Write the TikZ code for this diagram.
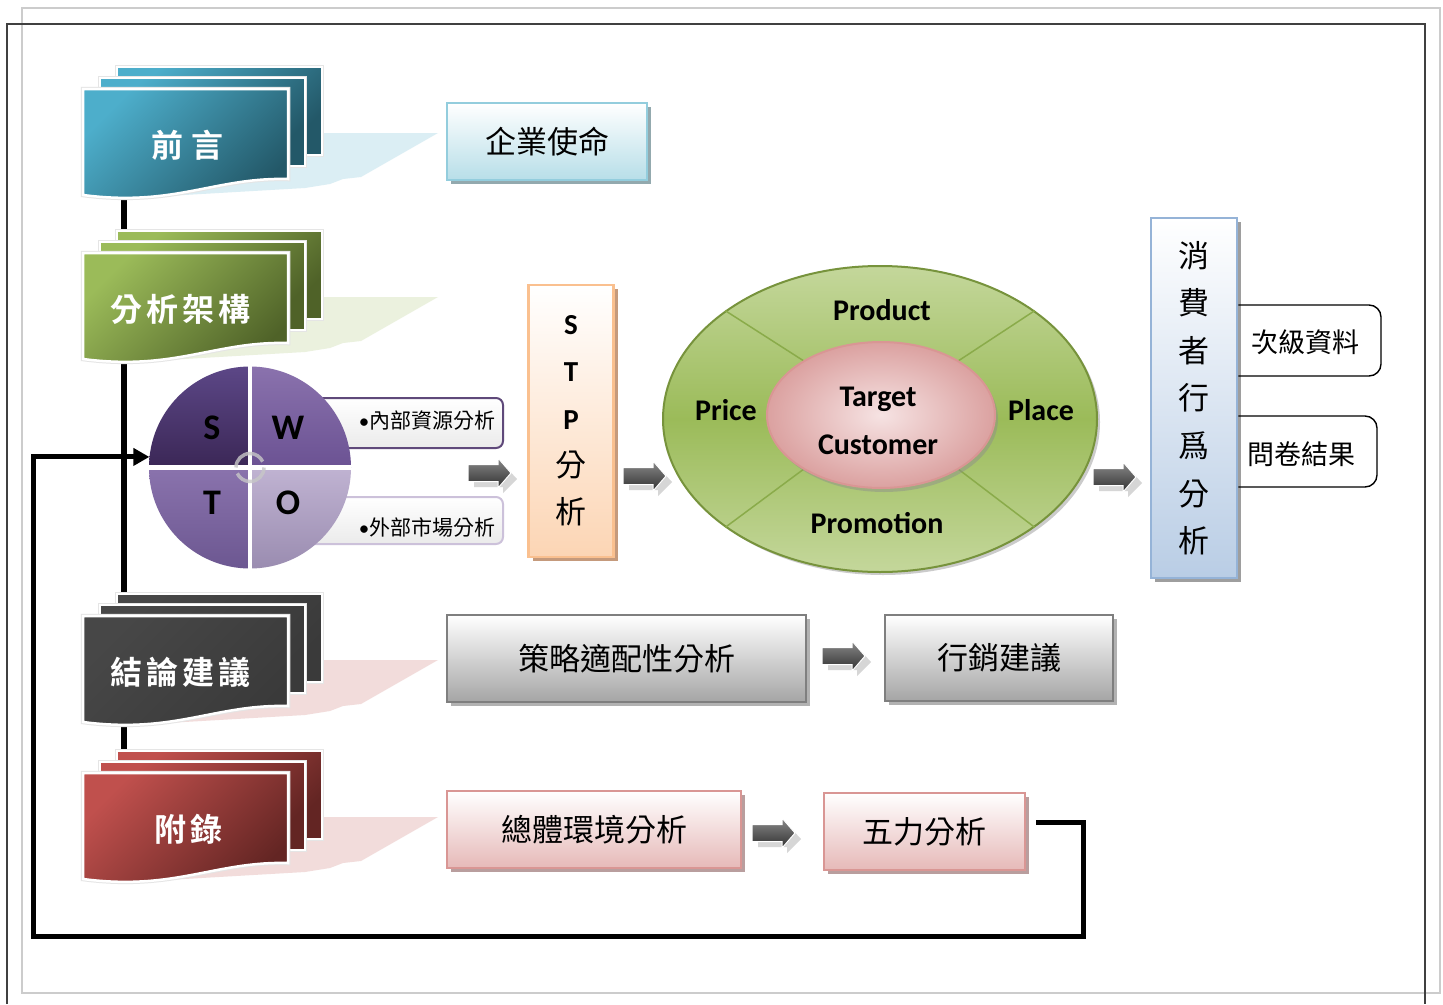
\documentclass[tikz,border=0pt]{standalone}
\usepackage{fontspec}
\setmainfont{Carlito}
\newfontfamily\cjk{Noto Sans CJK TC}
\newfontfamily\cjkb{Noto Sans CJK TC Bold}
\usetikzlibrary{shapes.geometric,shadows,arrows.meta,calc}
\definecolor{tealL}{HTML}{4DAECB}
\definecolor{tealD}{HTML}{235868}
\definecolor{grnL}{HTML}{9BBB59}
\definecolor{grnD}{HTML}{4F6228}
\definecolor{gryL}{HTML}{474747}
\definecolor{gryD}{HTML}{3A3A3A}
\definecolor{redL}{HTML}{C0504D}
\definecolor{redD}{HTML}{632523}
\definecolor{flagB}{HTML}{DBEEF4}
\definecolor{flagG}{HTML}{EBF1DE}
\definecolor{flagP}{HTML}{F2DCDB}
\definecolor{blueB}{HTML}{93CDDD}
\definecolor{blueF}{HTML}{B7DEE8}
\definecolor{blueS}{HTML}{93A9AE}
\definecolor{orB}{HTML}{FAC08F}
\definecolor{orF}{HTML}{FCD5B4}
\definecolor{orS}{HTML}{C59A7C}
\definecolor{cbB}{HTML}{95B3D7}
\definecolor{cbF}{HTML}{B9CDE5}
\definecolor{gbB}{HTML}{7F7F7F}
\definecolor{gbF}{HTML}{A5A5A5}
\definecolor{pkB}{HTML}{D99694}
\definecolor{pkF}{HTML}{E6B9B8}
\definecolor{pkS}{HTML}{B99E9E}
\definecolor{arrL}{HTML}{8A8A8A}
\definecolor{arrD}{HTML}{303030}
\definecolor{arrS}{HTML}{D6D6D6}
\definecolor{sT}{HTML}{5C4787}
\definecolor{sB}{HTML}{3B2756}
\definecolor{wT}{HTML}{8A72AD}
\definecolor{wB}{HTML}{6B5293}
\definecolor{tT}{HTML}{8A73AD}
\definecolor{tB}{HTML}{6C5791}
\definecolor{oT}{HTML}{C0B3D2}
\definecolor{oB}{HTML}{9A8CB0}
\definecolor{purB}{HTML}{5F497A}
\definecolor{purL}{HTML}{CCC1DA}
\definecolor{mixL}{HTML}{C4D79B}
\definecolor{mixM}{HTML}{9BBB59}
\definecolor{mixB}{HTML}{77933C}
\definecolor{divG}{HTML}{8AAB4A}
\definecolor{tcIn}{HTML}{F6E3E3}
\definecolor{tcOut}{HTML}{DBA1A0}
\newcommand\sectab[7]{%
  \fill[#4] (285,#1+44) -- (438,#1+44) -- (361,#1+88) -- (343,#1+90) -- (330,#1+95) -- (305,#1+99) -- (150,#1+108) -- (150,#1+44) -- cycle;
  \draw[tabdoc, top color=#2, bottom color=#3, shading angle=45] (117,#1-22) rectangle (322,#1+66);
  \draw[tabdoc, top color=#2, bottom color=#3, shading angle=45] (100,#1-11) rectangle (305,#1+77);
  \draw[tabdoc, top color=#2, bottom color=#3, shading angle=45] (83,#1) -- (288,#1) -- (288,#1+90) .. controls (215,#1+88) and (175,#1+118) .. (83,#1+106) -- cycle;
  \node[tabtext] (#5) at (#6,#1+56) {#7};
}
\tikzset{
  frameD/.style={draw=black!75, line width=1.5pt},
  frameL/.style={draw=black!20, line width=1.5pt},
  tabdoc/.style={draw=white, line width=2.5pt, preaction={draw=black!10, line width=4.5pt}},
  tabtext/.style={text=white, font=\cjkb\fontsize{32}{36}\selectfont, inner sep=0},
  spine/.style={line width=6pt, black},
  box/.style={rectangle, inner sep=0, line width=2.5pt, font=\cjk\fontsize{31}{36}\selectfont},
  bluebox/.style={box, draw=blueB, top color=white, bottom color=blueF,
    drop shadow={shadow xshift=4pt, shadow yshift=-4pt, fill=blueS, opacity=1}},
  orbox/.style={box, draw=orB, top color=white, bottom color=orF,
    drop shadow={shadow xshift=4pt, shadow yshift=-4pt, fill=orS, opacity=1}},
  cbbox/.style={box, draw=cbB, top color=white, bottom color=cbF,
    drop shadow={shadow xshift=4pt, shadow yshift=-4pt, fill=black!38, opacity=1}},
  graybox/.style={box, draw=gbB, top color=white, bottom color=gbF,
    drop shadow={shadow xshift=4pt, shadow yshift=-4pt, fill=black!30, opacity=1}},
  pinkbox/.style={box, draw=pkB, top color=white, bottom color=pkF,
    drop shadow={shadow xshift=4pt, shadow yshift=-4pt, fill=pkS, opacity=1}},
  swbox/.style={rectangle, rounded corners=7pt, inner sep=0, minimum width=203pt, line width=2pt,
    top color=white, bottom color=black!8},
  swtext/.style={inner sep=0, font=\cjk\fontsize{21}{24}\selectfont},
  swletter/.style={inner sep=0, font=\bfseries\fontsize{36}{40}\selectfont},
  pfont/.style={inner sep=0, font=\bfseries\fontsize{30}{34}\selectfont},
  divline/.style={draw=divG, line width=1.5pt},
  sidebox/.style={draw=black, line width=1.4pt, rounded corners=12pt},
  sidetext/.style={inner sep=0, font=\cjk\fontsize{27}{30}\selectfont},
  loopline/.style={line width=5pt, black},
  blockarr/.pic={
    \fill[arrS] (6,-3) -- (35,-3) -- (35,-9) -- (49,6) -- (35,20) -- (35,14) -- (6,14) -- cycle;
    \draw[top color=arrL, bottom color=arrD, draw=white, line width=1pt]
      (0,-8.5) -- (30,-8.5) -- (30,-15) -- (43,0) -- (30,15) -- (30,8.5) -- (0,8.5) -- cycle;
  }
}
\newcommand\swbullet{{\rmfamily\fontsize{21}{24}\selectfont •}}
\begin{document}
\begin{tikzpicture}[x=1pt,y=-1pt]
\useasboundingbox (0,0) rectangle (1443,1004);
\fill[white] (0,0) rectangle (1443,1004);
% page frames
\draw[frameL] (22,8) rectangle (1440,993);
\draw[frameD] (7,1004) -- (7,24) -- (1425,24) -- (1425,1004);
% spine
\coordinate (spineTop) at (124,190);
\coordinate (spineBot) at (124,760);
\draw[spine] (spineTop) -- (spineBot);
% section tabs
\sectab{89}{tealL}{tealD}{flagB}{tabIntro}{187}{前\hspace{8pt}言}
\sectab{253}{grnL}{grnD}{flagG}{tabFrame}{180}{分\hspace{4pt}析\hspace{4pt}架\hspace{4pt}構}
\sectab{616}{gryL}{gryD}{flagP}{tabConcl}{180}{結\hspace{4pt}論\hspace{4pt}建\hspace{4pt}議}
\sectab{773}{redL}{redD}{flagP}{tabAppx}{188}{附\hspace{4pt}錄}
% mission box
\node[bluebox, minimum width=200pt, minimum height=77pt] (mission) at (547,141.5) {企業使命};
% SWOT
\node[swbox, draw=purB, minimum height=50pt] (intl) at (401.5,423) {};
\node[swbox, draw=purL, minimum height=47pt] (extl) at (401.5,520.5) {};
\node[swtext] (intlt) at (427,421) {\swbullet 內部資源分析};
\node[swtext] (extlt) at (427,527) {\swbullet 外部市場分析};
\node[circle, minimum size=202pt, inner sep=0] (swot) at (250,467.5) {};
\begin{scope}
  \clip (swot.center) circle[radius=101];
  \shade[top color=sT, bottom color=sB] (swot.center) rectangle ++(-101,-101);
  \shade[top color=wT, bottom color=wB] (swot.center) rectangle ++(101,-101);
  \shade[top color=tT, bottom color=tB] (swot.center) rectangle ++(-101,101);
  \shade[top color=oT, bottom color=oB] (swot.center) rectangle ++(101,101);
\end{scope}
\draw[white, line width=4.5pt] (swot.north) -- (swot.south);
\draw[white, line width=4.5pt] (swot.west) -- (swot.east);
\draw[black!22, opacity=0.8, line width=3.5pt] ($(swot.center)+(-14,0)$) arc[start angle=180, end angle=335, radius=14];
\draw[black!22, opacity=0.8, line width=3.5pt] ($(swot.center)+(14,0)$) arc[start angle=0, end angle=155, radius=14];
\node[swletter] (swS) at (212,428) {S};
\node[swletter] (swW) at (288,428) {W};
\node[swletter] (swT) at (212,503) {T};
\node[swletter] (swO) at (288,503) {O};
% STP
\node[orbox, minimum width=85pt, minimum height=272pt, align=center,
      font=\fontsize{31}{47.3}\selectfont] (stp) at (571,421)
  {\bfseries\fontsize{29}{47.3}\selectfont S\\\bfseries\fontsize{29}{47.3}\selectfont T\\\bfseries\fontsize{29}{47.3}\selectfont P\\\cjk 分\\\cjk 析};
% 4P
\node[ellipse, minimum width=434pt, minimum height=306pt, draw=mixB, line width=2pt,
      top color=mixL, bottom color=mixL, middle color=mixM,
      drop shadow={shadow xshift=3pt, shadow yshift=-3pt, fill=black!40, opacity=0.5}] (mix) at (880,419) {};
\node[ellipse, minimum width=228pt, minimum height=146pt, inner sep=0] (tcshape) at (881,415) {};
\draw[divline] (mix.145) -- (tcshape.145);
\draw[divline] (mix.35) -- (tcshape.35);
\draw[divline] (mix.215) -- (tcshape.215);
\draw[divline] (mix.325) -- (tcshape.325);
\node[ellipse, minimum width=228pt, minimum height=146pt, inner sep=0, draw=pkB, line width=2pt,
      inner color=tcIn, outer color=tcOut,
      drop shadow={shadow xshift=3pt, shadow yshift=-4pt, fill=black!45, opacity=0.45}] (tc) at (881,415) {};
\node[pfont, align=center, font=\bfseries\fontsize{30}{48}\selectfont] (tct) at (878,421) {Target\\Customer};
\node[pfont] (prod) at (882,310) {Product};
\node[pfont] (price) at (726,410) {Price};
\node[pfont] (place) at (1041,410) {Place};
\node[pfont] (promo) at (877,523) {Promotion};
% consumer behaviour
\node[cbbox, minimum width=86pt, minimum height=360pt, align=center,
      font=\cjk\fontsize{31}{47.6}\selectfont] (consumer) at (1194,398)
  {消\\費\\者\\行\\爲\\分\\析};
\draw[sidebox] (consumer.east |- 0,305) -- (1381,305) -- (1381,376) -- (consumer.east |- 0,376);
\draw[sidebox] (consumer.east |- 0,416) -- (1377,416) -- (1377,487) -- (consumer.east |- 0,487);
\node[sidetext] (secdata) at (1305,342) {次級資料};
\node[sidetext] (survey) at (1301,454) {問卷結果};
% conclusion row
\node[graybox, minimum width=359pt, minimum height=87pt] (fit) at (626.5,658.5) {策略適配性分析};
\node[graybox, minimum width=228pt, minimum height=86pt] (mkt) at (999,658) {行銷建議};
% appendix row
\node[pinkbox, minimum width=294pt, minimum height=77pt] (macro) at (594,829.5) {總體環境分析};
\node[pinkbox, minimum width=201pt, minimum height=77pt] (wuli) at (924.5,831.5) {五力分析};
% block arrows
\pic at (468,473) {blockarr};
\pic at (623,476) {blockarr};
\pic at (1093,477) {blockarr};
\pic at (822,656) {blockarr};
\pic at (752,833) {blockarr};
% feedback loop
\coordinate (loopStart) at ([xshift=10pt,yshift=9.5pt]wuli.east);
\coordinate (loopBR) at (1083,936);
\coordinate (loopBL) at (33,936);
\draw[loopline, -{Triangle[length=16pt,width=17pt]}] (loopStart) -| (loopBR) -- (loopBL) |- (swot.174);
\end{tikzpicture}
\end{document}
